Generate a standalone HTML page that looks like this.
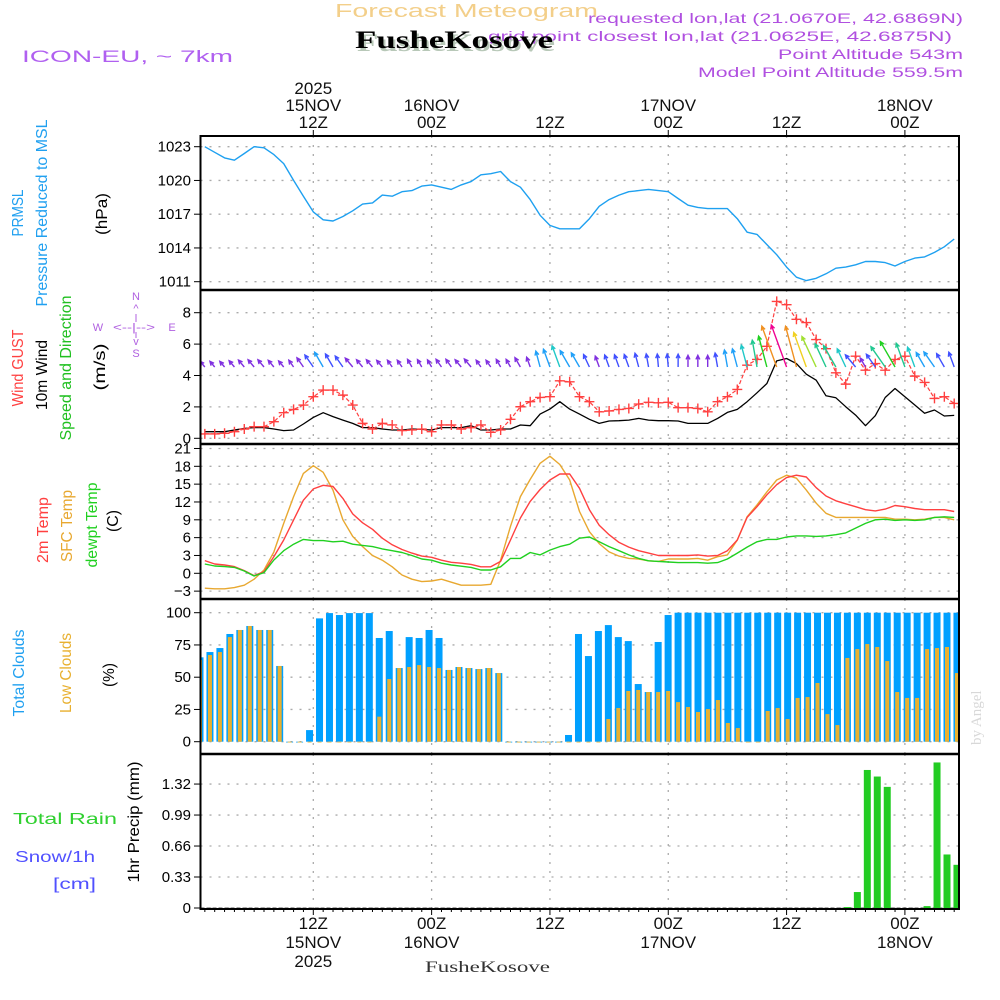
<!DOCTYPE html>
<html><head><meta charset="utf-8"><title>Forecast Meteogram FusheKosove</title>
<style>
html,body{margin:0;padding:0;background:#fff;}
svg{display:block;font-family:"Liberation Sans",sans-serif;}
</style></head>
<body>
<svg id="chart" width="1000" height="1000" viewBox="0 0 1000 1000" xmlns="http://www.w3.org/2000/svg">
<rect x="0" y="0" width="1000" height="1000" fill="#fff"/>
<text x="335" y="17" font-size="18" fill="#f3cf8a" textLength="263" lengthAdjust="spacingAndGlyphs">Forecast Meteogram</text>
<text x="22" y="62" font-size="17" fill="#b060f0" textLength="211" lengthAdjust="spacingAndGlyphs">ICON-EU, ~ 7km</text>
<g font-size="14" fill="#b050e0" text-anchor="end">
<text x="963" y="23" textLength="375" lengthAdjust="spacingAndGlyphs">requested lon,lat (21.0670E, 42.6869N)</text>
<text x="952" y="41" textLength="464" lengthAdjust="spacingAndGlyphs">grid point closest lon,lat (21.0625E, 42.6875N)</text>
<text x="963" y="59" textLength="185" lengthAdjust="spacingAndGlyphs">Point Altitude 543m</text>
<text x="963" y="77" textLength="265" lengthAdjust="spacingAndGlyphs">Model Point Altitude 559.5m</text>
</g>
<text x="357" y="51" font-family="Liberation Serif, serif" font-weight="bold" font-size="25" fill="#b8c8b8" textLength="198" lengthAdjust="spacingAndGlyphs">FusheKosove</text>
<text x="355" y="48" font-family="Liberation Serif, serif" font-weight="bold" font-size="25" fill="#000" textLength="198" lengthAdjust="spacingAndGlyphs">FusheKosove</text>
<text x="425" y="972" font-family="Liberation Serif, serif" font-size="16" fill="#333" textLength="125" lengthAdjust="spacingAndGlyphs">FusheKosove</text>
<text transform="translate(981,745) rotate(-90)" font-family="Liberation Serif, serif" font-size="15" fill="#d8d8d8">by Angel</text>

<g font-size="16">
<text transform="translate(23,213) rotate(-90)" text-anchor="middle" fill="#20a0f0" textLength="47" lengthAdjust="spacingAndGlyphs">PRMSL</text>
<text transform="translate(47,213) rotate(-90)" text-anchor="middle" fill="#20a0f0" textLength="187" lengthAdjust="spacingAndGlyphs">Pressure Reduced to MSL</text>
<text transform="translate(107,214) rotate(-90)" text-anchor="middle" fill="#000" textLength="42" lengthAdjust="spacingAndGlyphs">(hPa)</text>
<text transform="translate(23,368) rotate(-90)" text-anchor="middle" fill="#ff4040" textLength="77" lengthAdjust="spacingAndGlyphs">Wind GUST</text>
<text transform="translate(47,375) rotate(-90)" text-anchor="middle" fill="#000" textLength="70" lengthAdjust="spacingAndGlyphs">10m Wind</text>
<text transform="translate(71,368) rotate(-90)" text-anchor="middle" fill="#20c020" textLength="145" lengthAdjust="spacingAndGlyphs">Speed and Direction</text>
<text transform="translate(105,367) rotate(-90)" text-anchor="middle" fill="#000" textLength="47" lengthAdjust="spacingAndGlyphs">(m/s)</text>
<g fill="#b060e0" font-size="11" text-anchor="middle">
<text x="136" y="300">N</text><text x="136" y="312">^</text>
<text x="98" y="331">W</text><text x="134" y="331" textLength="42" lengthAdjust="spacingAndGlyphs">&lt;--|--&gt;</text><text x="172" y="331">E</text>
<text x="136" y="345">v</text><text x="136" y="357">S</text>
<line x1="136" y1="314" x2="136" y2="322" stroke="#b060e0"/><line x1="136" y1="332" x2="136" y2="338" stroke="#b060e0"/>
</g>
<text transform="translate(48,530) rotate(-90)" text-anchor="middle" fill="#ff4040" textLength="66" lengthAdjust="spacingAndGlyphs">2m Temp</text>
<text transform="translate(72,526) rotate(-90)" text-anchor="middle" fill="#e8a830" textLength="72" lengthAdjust="spacingAndGlyphs">SFC Temp</text>
<text transform="translate(97,525) rotate(-90)" text-anchor="middle" fill="#20d020" textLength="85" lengthAdjust="spacingAndGlyphs">dewpt Temp</text>
<text transform="translate(118,521) rotate(-90)" text-anchor="middle" fill="#000" textLength="22" lengthAdjust="spacingAndGlyphs">(C)</text>
<text transform="translate(24,673) rotate(-90)" text-anchor="middle" fill="#20a0f0" textLength="87" lengthAdjust="spacingAndGlyphs">Total Clouds</text>
<text transform="translate(71,673) rotate(-90)" text-anchor="middle" fill="#e8b030" textLength="80" lengthAdjust="spacingAndGlyphs">Low Clouds</text>
<text transform="translate(114,675) rotate(-90)" text-anchor="middle" fill="#000" textLength="24" lengthAdjust="spacingAndGlyphs">(%)</text>
<text x="13" y="824" fill="#30d030" font-size="16" textLength="104" lengthAdjust="spacingAndGlyphs">Total   Rain</text>
<text x="15" y="862" fill="#5050ff" font-size="16" textLength="80" lengthAdjust="spacingAndGlyphs">Snow/1h</text>
<text x="53" y="889" fill="#5050ff" font-size="16" textLength="43" lengthAdjust="spacingAndGlyphs">[cm]</text>
<text transform="translate(139,822) rotate(-90)" text-anchor="middle" fill="#000" textLength="121" lengthAdjust="spacingAndGlyphs">1hr Precip (mm)</text>
</g>
<g id="plot"></g>
</svg>
<script>
// ---- data (hourly, from 01Z 15NOV to 05Z 18NOV) ----
const startHour = -11; // hours relative to 12Z 15NOV
const pressure = [1023.0,1022.5,1022.0,1021.8,1022.4,1023.0,1022.9,1022.3,1021.5,1020.0,1018.6,1017.2,1016.5,1016.4,1016.8,1017.3,1017.9,1018.0,1018.7,1018.6,1019.0,1019.1,1019.5,1019.6,1019.4,1019.2,1019.6,1019.9,1020.5,1020.6,1020.8,1019.9,1019.4,1018.3,1016.9,1016.0,1015.7,1015.7,
1015.7,1016.6,1017.7,1018.3,1018.7,1019.0,1019.1,1019.2,1019.1,1019.0,1018.4,1017.8,1017.6,1017.5,1017.5,1017.5,1016.6,1015.4,1015.2,1014.3,1013.4,1012.3,1011.4,1011.1,1011.3,1011.7,1012.2,1012.3,1012.5,1012.8,1012.8,1012.7,1012.4,1012.8,1013.1,1013.2,1013.6,1014.1,1014.8];
const gust = [0.28,0.28,0.32,0.42,0.59,0.74,0.74,1.06,1.63,1.84,2.12,2.65,3.07,3.07,2.75,2.12,0.95,0.59,0.95,0.85,0.49,0.53,0.59,0.42,0.85,0.85,0.59,0.68,0.85,0.38,0.53,1.21,2.01,2.33,2.60,2.65,3.66,3.60,
2.65,2.33,1.69,1.74,1.84,1.90,2.18,2.29,2.26,2.29,1.95,1.95,1.90,1.69,2.33,2.65,3.11,4.66,5.02,5.86,8.72,8.51,7.58,7.37,6.29,5.71,4.17,3.45,5.23,4.34,4.76,4.34,5.02,5.23,3.96,3.56,2.54,2.65,2.22];
const windSpeed = [0.42,0.42,0.42,0.53,0.63,0.68,0.68,0.59,0.49,0.53,0.91,1.33,1.63,1.38,1.16,0.95,0.68,0.68,0.59,0.53,0.53,0.59,0.57,0.53,0.68,0.68,0.68,0.80,0.53,0.53,0.59,0.59,0.85,0.80,1.54,1.86,2.33,1.86,
1.54,1.21,0.95,1.10,1.12,1.16,1.27,1.16,1.12,1.12,1.10,0.95,0.95,0.95,1.27,1.65,1.84,2.33,2.90,3.49,4.93,5.08,4.76,4.08,3.70,2.71,2.58,2.01,1.48,0.80,1.44,2.60,3.17,2.65,2.12,1.59,1.80,1.42,1.46];
const windDir = [140,140,140,140,140,140,140,140,140,145,145,145,150,150,145,140,140,140,140,145,145,150,150,150,145,145,140,140,145,145,150,150,150,160,165,160,160,150,
150,155,160,160,160,160,165,170,175,175,180,180,180,180,170,170,165,165,170,165,160,160,165,160,155,155,150,155,140,150,145,145,150,160,160,150,145,150,160];
const temp2m = [2.13,1.57,1.40,1.12,0.45,-0.39,0.28,2.81,5.61,8.98,12.3,14.2,14.8,14.6,12.6,10.0,8.5,7.4,5.9,4.8,4.0,3.4,2.9,2.7,2.2,1.85,1.7,1.5,1.1,1.1,2.0,5.6,9.3,12.1,14.1,15.7,16.7,16.7,
14.3,10.7,8.1,6.5,5.2,4.4,3.8,3.4,3.0,3.0,3.0,3.0,3.1,2.9,3.0,3.8,5.6,9.4,11.2,13.2,14.9,16.1,16.5,16.2,14.4,13.0,12.2,11.7,11.2,10.7,10.5,10.8,11.4,11.2,10.9,10.7,10.7,10.7,10.4];
const sfcTemp = [-2.5,-2.6,-2.6,-2.4,-2.0,-1.0,0.56,3.6,8.4,12.9,16.8,18.1,17.0,14.0,9.0,6.2,4.5,3.0,2.2,1.1,-0.28,-1.0,-1.4,-1.3,-1.0,-1.5,-2.0,-2.0,-2.0,-1.85,2.2,7.9,12.9,15.8,18.5,19.7,18.3,15.7,
10.4,7.0,5.0,3.6,2.9,2.5,2.4,2.1,2.0,2.4,2.4,2.4,2.5,2.2,2.8,3.1,5.6,9.5,11.5,13.7,15.7,16.5,16.0,14.0,11.8,10.1,9.4,9.4,9.4,9.4,9.4,9.4,9.1,9.1,9.0,9.1,9.4,9.4,9.0];
const dewpoint = [1.57,1.23,1.12,1.0,0.39,-0.45,0.11,2.24,3.8,4.9,5.7,5.5,5.5,5.3,5.4,4.9,4.7,4.5,4.1,3.8,3.5,3.0,2.4,2.2,1.7,1.4,1.2,1.0,0.56,0.56,1.1,2.5,2.5,3.5,3.1,3.9,4.5,4.9,
5.9,6.1,5.3,4.5,3.8,3.1,2.5,2.1,2.0,1.9,1.8,1.8,1.8,1.7,1.8,2.4,3.4,4.4,5.3,5.7,5.7,6.1,6.3,6.3,6.2,6.3,6.5,6.8,7.6,8.4,9.0,9.1,8.9,9.0,8.9,9.0,9.4,9.5,9.4];
const totalClouds = [65.4,69.5,72.6,83.5,86.6,89.7,86.6,86.6,58.7,0,0,9.0,95.6,99.7,98.2,99.7,99.7,99.7,80.4,85.8,57.1,81.1,80.4,86.6,80.4,55.6,57.9,57.1,56.3,57.1,53.2,0,0,0,0,0,0,5.2,
83.5,66.4,85.8,90.4,81.1,78.0,44.7,38.5,77.3,98.2,100,100,100,100,100,100,100,100,100,100,100,100,100,100,100,100,100,100,100,100,100,100,100,100,100,100,100,100,100];
const lowClouds = [63.3,67.2,69.5,81.1,86.6,89.7,86.6,86.6,58.7,0,0,0,0,0,0,0,0,0,19.4,48.6,57.1,57.9,59.4,57.9,57.1,55.6,57.9,57.1,56.3,57.1,53.2,0,0,0,0,0,0,0,
0,0,0,17.6,26.1,39.3,40.1,38.5,38.5,39.3,30.7,26.9,23.0,25.3,32.3,14.5,10.6,0,0,23.8,26.1,17.6,33.9,34.6,45.5,21.4,12.9,64.9,71.8,75.7,73.4,62.5,38.5,33.9,33.9,71.8,72.6,73.4,53.2];
const precip = [0,0,0,0,0,0,0,0,0,0, 0,0,0,0,0,0,0,0,0,0, 0,0,0,0,0,0,0,0,0,0, 0,0,0,0,0,0,0,0,0,0,
0,0,0,0,0,0,0,0,0,0, 0,0,0,0,0,0,0,0,0,0, 0,0,0,0,0,
0.01,0.17,1.47,1.40,1.29,0,0,0,0.02,1.55,0.57,0.46];
const pressTicks = [1011,1014,1017,1020,1023];
const windTicks = [0,2,4,6,8];
const tempTicks = [-3,0,3,6,9,12,15,18,21];
const cloudTicks = [0,25,50,75,100];
const precipTicks = [0,0.33,0.66,0.99,1.32];
const timeTicks = [0,12,24,36,48,60];
const timeHourLabels = ["12Z","00Z","12Z","00Z","12Z","00Z"];
const timeDayLabels = ["15NOV","16NOV","","17NOV","","18NOV"];
const timeYearLabels = ["2025","","","","",""];

// ---- scales ----
const NS = "http://www.w3.org/2000/svg";
const L = 200.5, R = 959;
const xh = h => 313.3 + 9.86 * h;
const xbar = i => 200 + 9.96 * i; // bar centre by sample index
const panels = {
  press: {top:136, bot:290, y: v => 146.7 + (1023 - v) * 11.25},
  wind:  {top:290, bot:444, y: v => 438.3 - v * 15.7},
  temp:  {top:444, bot:599, y: v => 573.3 - v * 5.944},
  cloud: {top:599, bot:754, y: v => 741.7 - v * 1.29},
  rain:  {top:754, bot:909, y: v => 908 - v * 93.9}
};
const plot = document.getElementById('plot');
function mk(tag, attrs, parent) {
  const e = document.createElementNS(NS, tag);
  for (const k in attrs) e.setAttribute(k, attrs[k]);
  (parent || plot).appendChild(e);
  return e;
}
const defs = mk('defs', {});
Object.keys(panels).forEach(k => {
  const p = panels[k];
  p.key = k;
  const cp = mk('clipPath', {id: 'clip-' + k}, defs);
  mk('rect', {x: L, y: p.top, width: R - L, height: p.bot - p.top}, cp);
});
const hourOf = i => startHour + i;

function panelFrame(key, ticks, fmt, name) {
  const p = panels[key];
  const g = mk('g', {});
  
  
  ticks.forEach(t => {
    const y = p.y(t);
    const gl = mk('line', {x1: L, x2: R, y1: y, y2: y, stroke: '#aaa', 'stroke-width': 1.3, 'stroke-dasharray': '2 7'}, g);
    
    
    mk('line', {x1: 194, x2: 200, y1: y, y2: y, stroke: '#000', 'stroke-width': 1}, g);
    const tx = mk('text', {x: 191, y: y + 5, 'text-anchor': 'end', 'font-size': 15, fill: '#000'}, g);
    tx.textContent = fmt(t);
    
    
  });
  timeTicks.forEach(h => {
    const x = xh(h);
    mk('line', {x1: x, x2: x, y1: p.top, y2: p.bot, stroke: '#aaa', 'stroke-width': 1.3, 'stroke-dasharray': '2 7'}, g);
  });
  return g;
}
panelFrame('press', pressTicks, t => String(t), 'pressure');
panelFrame('wind', windTicks, t => String(t), 'wind');
panelFrame('temp', tempTicks, t => (t < 0 ? '\u2212' + (-t) : String(t)), 'temperature');
panelFrame('cloud', cloudTicks, t => String(t), 'clouds');
panelFrame('rain', precipTicks, t => String(t), 'precip');

function linePath(arr, p, color, name, w, dash) {
  const d = arr.map((v, i) => (i ? 'L' : 'M') + xh(hourOf(i)).toFixed(1) + ',' + p.y(v).toFixed(1)).join(' ');
  const el = mk('path', {d: d, fill: 'none', stroke: color, 'stroke-width': w || 1.4, 'stroke-linejoin': 'round', 'clip-path': 'url(#clip-' + p.key + ')'});
  if (dash) el.setAttribute('stroke-dasharray', dash);
  
  
  return el;
}

// clouds bars
const cg = mk('g', {'clip-path': 'url(#clip-cloud)'});


totalClouds.forEach((v, i) => {
  const x = xbar(i);
  const p = panels.cloud;
  const b = mk('rect', {x: x - 3.5, y: p.y(v), width: 7, height: Math.max(p.y(0) - p.y(v), 0.8), fill: '#00a0ff'}, cg);
  
  
  const lv = lowClouds[i];
  const b2 = mk('rect', {x: x - 2, y: p.y(lv), width: 4, height: Math.max(p.y(0) - p.y(lv), 0.8), fill: '#e8b030'}, cg);
  
  
});
// precip bars
const pg = mk('g', {'clip-path': 'url(#clip-rain)'});


mk('line', {x1: L, x2: R, y1: 908, y2: 908, stroke: '#555', 'stroke-width': 1, 'stroke-dasharray': '4 2'}, pg);
precip.forEach((v, i) => {
  if (v <= 0) return;
  const x = xbar(i);
  const p = panels.rain;
  const b = mk('rect', {x: x - 3.5, y: p.y(v), width: 7, height: p.y(0) - p.y(v), fill: '#22cc22'}, pg);
  
  
});

// pressure
linePath(pressure, panels.press, '#1ea0f0', 'pressure-line', 1.4);
// temps
linePath(sfcTemp, panels.temp, '#e8a830', 'sfc-temp-line', 1.4);
linePath(temp2m, panels.temp, '#ff4040', 'temp-2m-line', 1.4);
linePath(dewpoint, panels.temp, '#20d020', 'dewpoint-line', 1.4);
// wind speed
linePath(windSpeed, panels.wind, '#000', 'wind-speed-line', 1.3);
linePath(gust, panels.wind, '#ff4040', 'gust-line', 1.2, '4 2');
const gm = mk('g', {'clip-path': 'url(#clip-wind)'});


gust.forEach((v, i) => {
  const x = xh(hourOf(i)), y = panels.wind.y(v);
  const m = mk('path', {d: `M${x-5},${y}H${x+5}M${x},${y-5}V${y+5}`, stroke: '#ff4040', 'stroke-width': 1.4}, gm);
  
  
});
// wind arrows
function arrowColor(s) {
  if (s < 1.0) return '#8030e0';
  if (s < 1.5) return '#4050ff';
  if (s < 2.0) return '#20a0f8';
  if (s < 2.5) return '#20c8c8';
  if (s < 3.0) return '#20c890';
  if (s < 3.5) return '#20d020';
  if (s < 4.0) return '#a0e030';
  if (s < 4.5) return '#f0d020';
  if (s < 5.0) return '#f09020';
  return '#f00090';
}
const ag = mk('g', {'clip-path': 'url(#clip-wind)'});


windSpeed.forEach((s, i) => {
  const x = xh(hourOf(i)), y = 367;
  const len = 4 + 8 * s;
  const t = (windDir[i] + 180) * Math.PI / 180;
  const dx = Math.sin(t), dy = -Math.cos(t);
  const tx = x + dx * len, ty = y + dy * len;
  const hl = 4.5, a = 0.45;
  const bx = -dx, by = -dy;
  const h1x = tx + hl * (bx * Math.cos(a) - by * Math.sin(a)), h1y = ty + hl * (bx * Math.sin(a) + by * Math.cos(a));
  const h2x = tx + hl * (bx * Math.cos(-a) - by * Math.sin(-a)), h2y = ty + hl * (bx * Math.sin(-a) + by * Math.cos(-a));
  const c = arrowColor(s);
  const ar = mk('path', {d: `M${x},${y}L${tx},${ty}M${h1x},${h1y}L${tx},${ty}L${h2x},${h2y}`, stroke: c, 'stroke-width': 1.4, fill: 'none'}, ag);
  
  
});

// frames
const fr = mk('g', {});


mk('rect', {x: L, y: 136, width: R - L, height: 909 - 136, fill: 'none', stroke: '#000', 'stroke-width': 2}, fr);
[290, 444, 599, 754].forEach(y => mk('line', {x1: L, x2: R, y1: y, y2: y, stroke: '#000', 'stroke-width': 2.5}, fr));
for (let h = -11; h <= 65; h++) {
  const x = xh(h);
  const big = timeTicks.indexOf(h) >= 0;
  mk('line', {x1: x, x2: x, y1: 909, y2: big ? 915 : 912, stroke: '#000', 'stroke-width': 1}, fr);
  if (big) mk('line', {x1: x, x2: x, y1: 130, y2: 136, stroke: '#000', 'stroke-width': 1}, fr);
}
// time labels
timeTicks.forEach((h, i) => {
  const x = xh(h);
  const rows = [[timeYearLabels[i], 94, 967], [timeDayLabels[i], 111, 948], [timeHourLabels[i], 128, 929]];
  rows.forEach(r => {
    if (!r[0]) return;
    const t1 = mk('text', {x: x, y: r[1], 'text-anchor': 'middle', 'font-size': 17, fill: '#111'});
    t1.textContent = r[0];
    
    
    const t2 = mk('text', {x: x, y: r[2], 'text-anchor': 'middle', 'font-size': 17, fill: '#111'});
    t2.textContent = r[0];
    
    
  });
});
</script>
</body></html>
